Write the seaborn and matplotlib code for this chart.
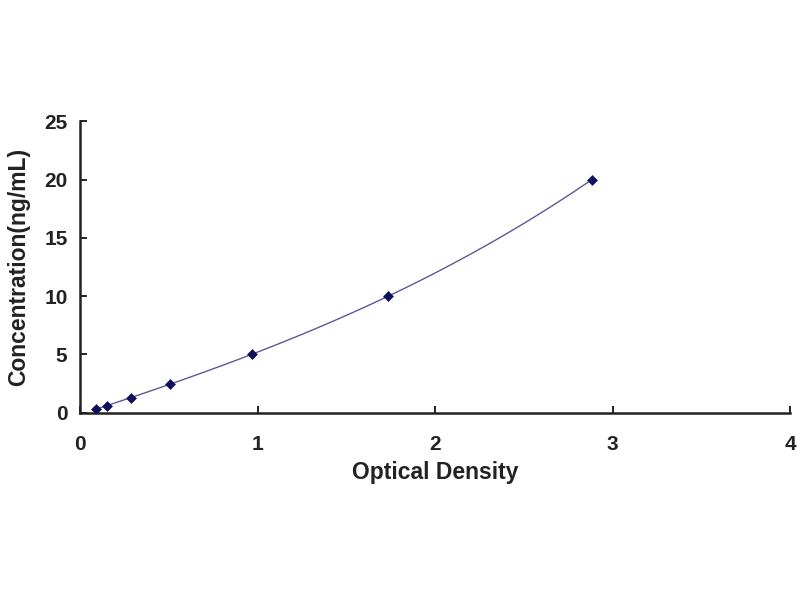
import matplotlib
matplotlib.use("Agg")
import matplotlib.pyplot as plt
import seaborn as sns
import pandas as pd

od = [0.088, 0.153, 0.285, 0.507, 0.968, 1.735, 2.883]
conc = [0.312, 0.625, 1.25, 2.5, 5, 10, 20]
x_ticks = [0, 1, 2, 3, 4]
y_ticks = [0, 5, 10, 15, 20, 25]

df = pd.DataFrame({"od": od, "conc": conc})

sns.set_style("white")
plt.rcParams['font.family'] = ['Liberation Sans', 'DejaVu Sans']

fig = plt.figure(figsize=(8, 6), dpi=100)
ax = fig.add_axes([0.1, 0.312, 0.888, 0.486])

sns.regplot(data=df, x="od", y="conc", order=3, ci=None, scatter=False, truncate=True,
            line_kws=dict(color="#5a5a9a", lw=1.0), ax=ax)
sns.scatterplot(data=df, x="od", y="conc", marker="D", s=26, color="#10105a",
                edgecolor="#10105a", ax=ax, zorder=5)

ax.set_xlim(0, 4)
ax.set_ylim(0, 25)
ax.set_xticks(x_ticks)
ax.set_yticks(y_ticks)
for s in ["top", "right"]:
    ax.spines[s].set_visible(False)
for s in ["left", "bottom"]:
    ax.spines[s].set_color("#222222")
    ax.spines[s].set_linewidth(1.8)
ax.tick_params(direction="in", length=5, width=1.4, color="#222222",
               labelsize=15, bottom=True, left=True)
ax.tick_params(axis="x", pad=16)
ax.tick_params(axis="y", pad=9)
for lab in ax.get_xticklabels() + ax.get_yticklabels():
    lab.set_fontweight("bold")
    lab.set_color("#222222")
ax.set_xlabel("Optical Density", fontsize=16.5, fontweight="bold", color="#222222", labelpad=5)
ax.set_ylabel("Concentration(ng/mL)", fontsize=16.5, fontweight="bold", color="#222222", labelpad=10)

fig.savefig("out.png", dpi=100)
